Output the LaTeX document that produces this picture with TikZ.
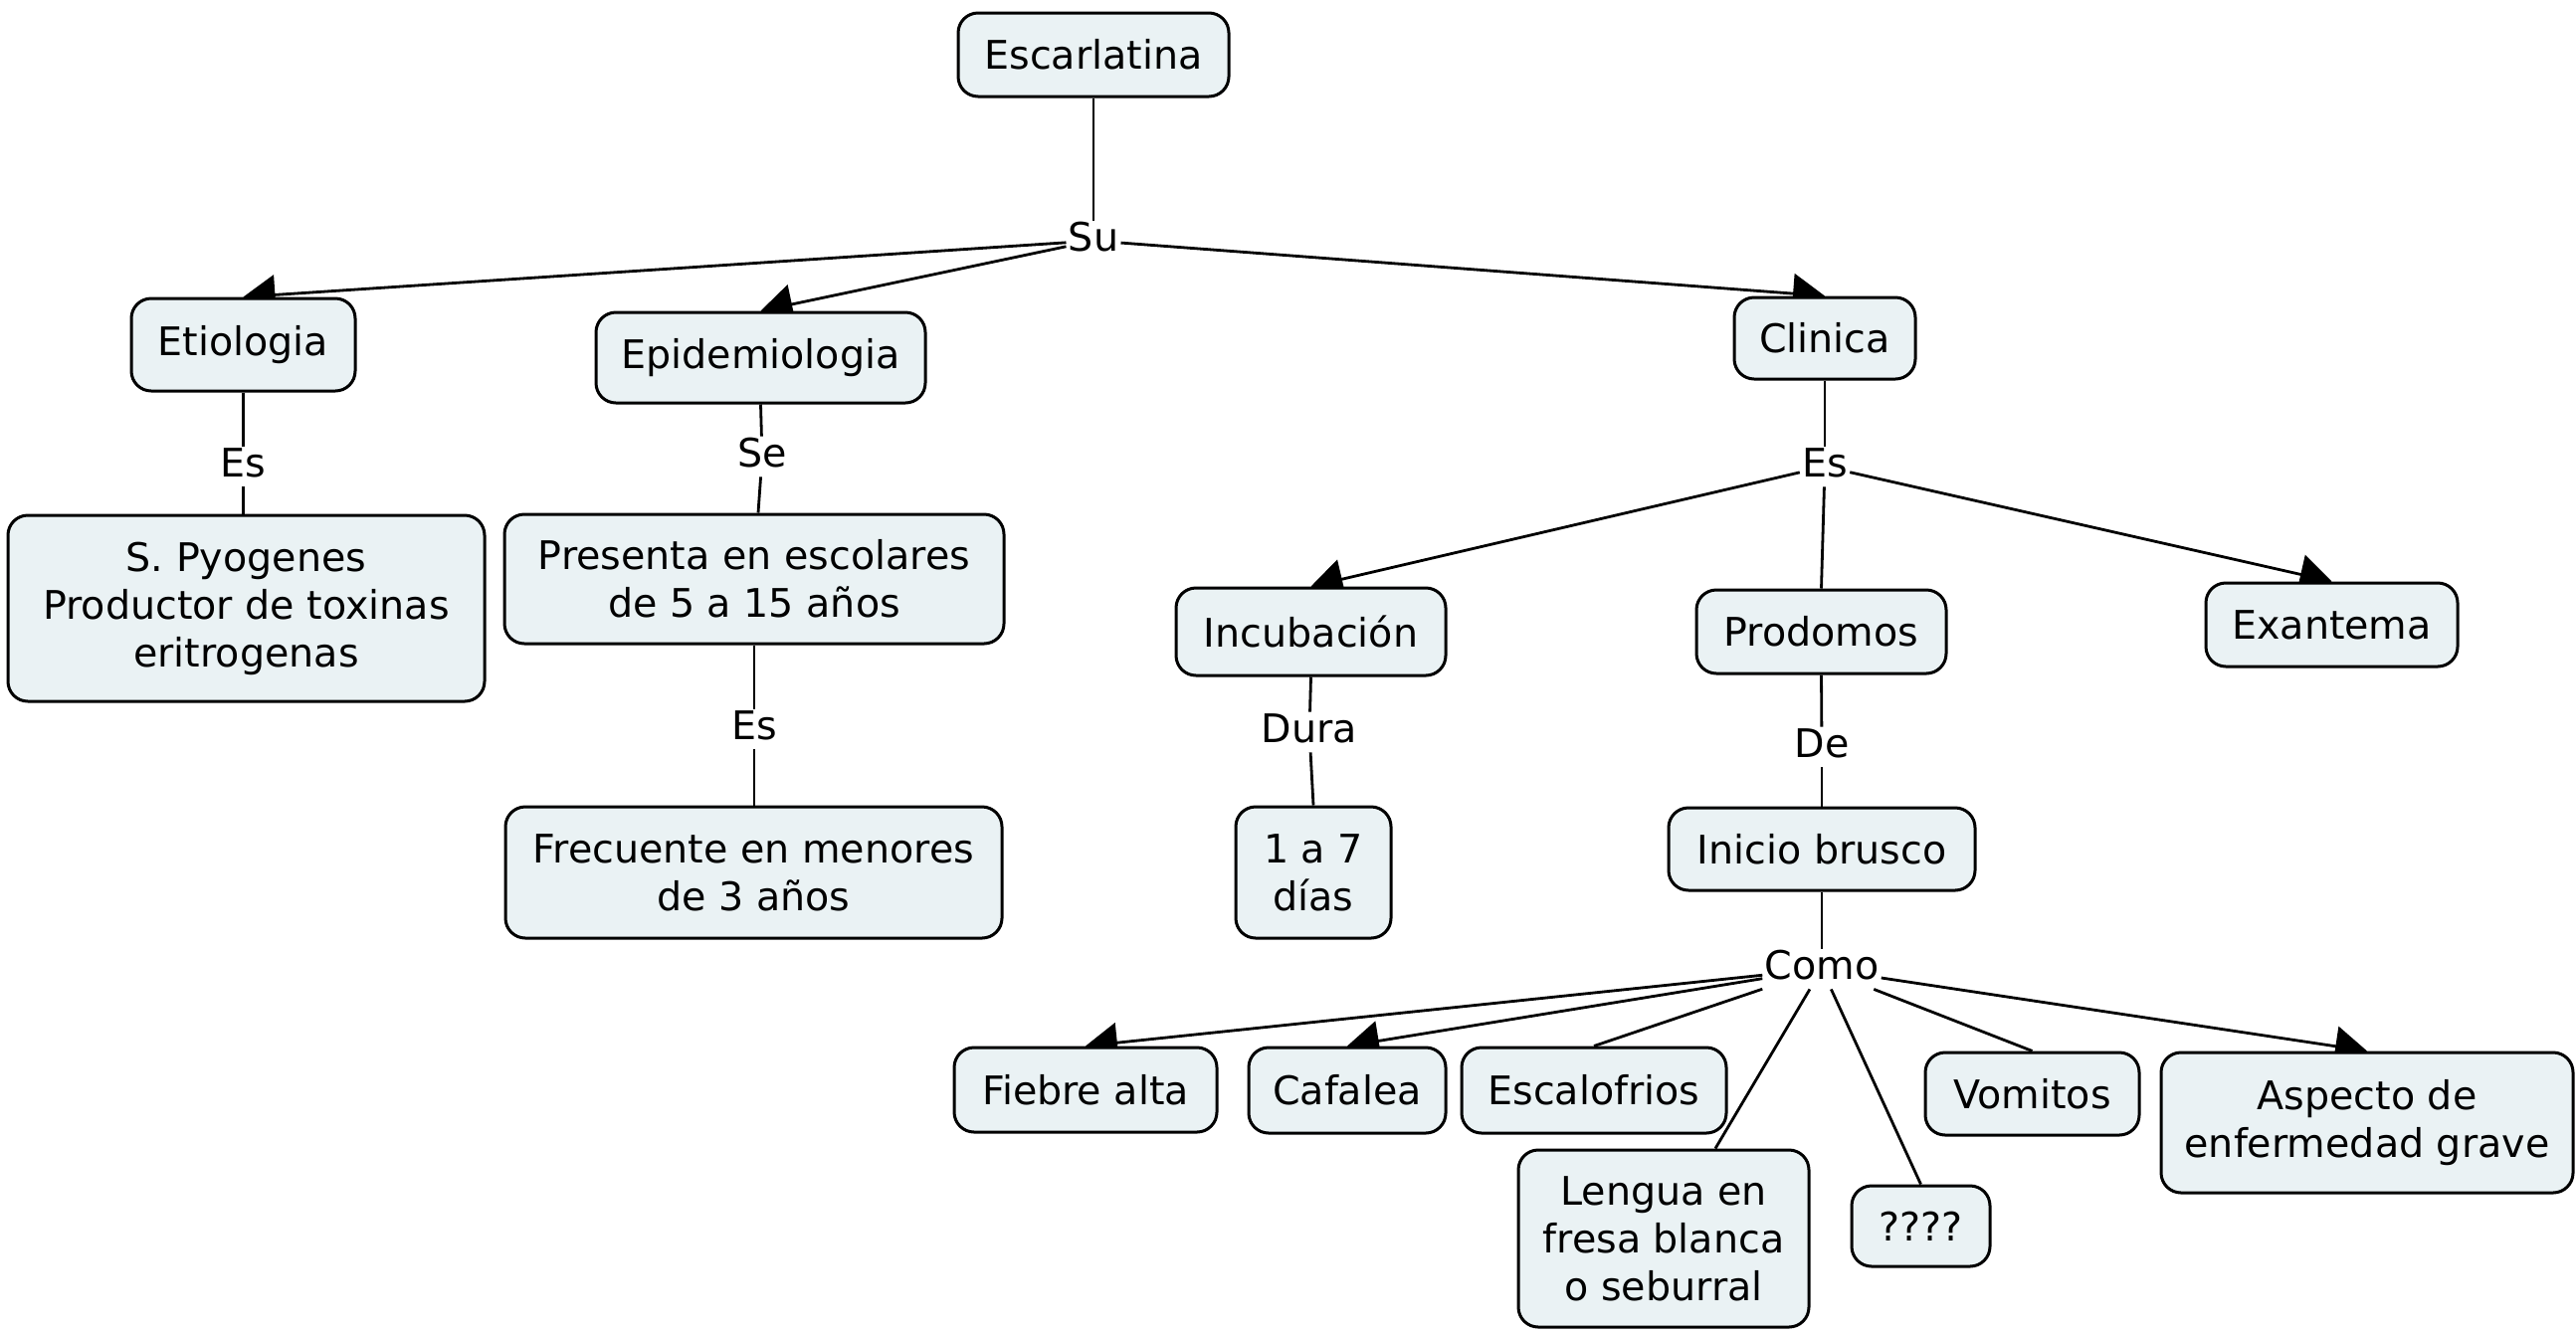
\documentclass[tikz,border=0pt]{standalone}
\usepackage{fontspec}
\setmainfont{DejaVu Sans}
\usetikzlibrary{arrows.meta,backgrounds}
\definecolor{boxfill}{RGB}{234,242,244}
\begin{document}
\begin{tikzpicture}[x=0.5pt,y=-0.5pt,
  box/.style={draw=black, line width=1.5pt, fill=boxfill, rounded corners=10pt, align=center, inner sep=0pt, font=\fontsize{19.8}{24}\selectfont},
  lbl/.style={inner sep=1pt, text height=14pt, text depth=4pt, font=\fontsize{19.8}{24}\selectfont},
  conn/.style={line width=1.4pt},
  arr/.style={line width=1.4pt, -{Triangle[length=16pt,width=20pt]}},
]
\useasboundingbox (0,0) rectangle (2589,1340);
% concept boxes
\node[box, minimum width=136pt, minimum height=42pt] (escar) at (1099,55) {Escarlatina};
\node[box, minimum width=112.5pt, minimum height=46.5pt] (etio) at (244.5,346.5) {Etiologia};
\node[box, minimum width=239.5pt, minimum height=93.5pt] (spy) at (247.5,611.5) {S. Pyogenes\\Productor de toxinas\\eritrogenas};
\node[box, minimum width=165.5pt, minimum height=45.5pt] (epid) at (764.5,359.5) {Epidemiologia};
\node[box, minimum width=251pt, minimum height=65pt] (pres) at (758,582) {Presenta en escolares\\de 5 a 15 años};
\node[box, minimum width=249.5pt, minimum height=66pt] (frec) at (757.5,877) {Frecuente en menores\\de 3 años};
\node[box, minimum width=91pt, minimum height=41pt] (clin) at (1834,340) {Clinica};
\node[box, minimum width=135.5pt, minimum height=44pt] (incu) at (1317.5,635) {Incubación};
\node[box, minimum width=78pt, minimum height=66pt] (dias) at (1320,877) {1 a 7\\días};
\node[box, minimum width=125.5pt, minimum height=42pt] (prod) at (1830.5,635) {Prodomos};
\node[box, minimum width=154pt, minimum height=41.5pt] (inic) at (1831,853.5) {Inicio brusco};
\node[box, minimum width=126.5pt, minimum height=42pt] (exan) at (2343.5,628) {Exantema};
\node[box, minimum width=132pt, minimum height=42.5pt] (fieb) at (1091,1095.5) {Fiebre alta};
\node[box, minimum width=99pt, minimum height=43pt] (cafa) at (1354,1096) {Cafalea};
\node[box, minimum width=133pt, minimum height=43pt] (esca) at (1602,1096) {Escalofrios};
\node[box, minimum width=146pt, minimum height=89pt] (leng) at (1672,1245) {Lengua en\\fresa blanca\\o seburral};
\node[box, minimum width=69.5pt, minimum height=40.5pt] (ques) at (1930.5,1232.5) {????};
\node[box, minimum width=107.5pt, minimum height=41.5pt] (vomi) at (2042.5,1099.5) {Vomitos};
\node[box, minimum width=207pt, minimum height=70.5pt] (aspe) at (2379,1128.5) {Aspecto de\\enfermedad grave};
% linking phrases
\node[lbl] (su) at (1099,242) {Su};
\node[lbl] (es1) at (244.5,469) {Es};
\node[lbl] (se) at (766,459) {Se};
\node[lbl] (es2) at (758,733) {Es};
\node[lbl] (es3) at (1834,469) {Es};
\node[lbl] (dura) at (1316,736) {Dura};
\node[lbl] (de) at (1831,751) {De};
\node[lbl] (como) at (1831,974) {Como};
% connectors
\begin{scope}[on background layer]
\fill[white] (0,0) rectangle (2589,1340);
\draw[conn] (escar.south) -- (su);
\draw[arr] (su) -- (etio.north);
\draw[arr] (su) -- (epid.north);
\draw[arr] (su) -- (clin.north);
\draw[conn] (etio.south) -- (es1);
\draw[conn] (es1) -- (es1 |- spy.north);
\draw[conn] (epid.south) -- (se);
\draw[conn] (se) -- ([xshift=2pt]pres.north);
\draw[conn] (pres.south) -- (es2);
\draw[conn] (es2) -- (es2 |- frec.north);
\draw[conn] (clin.south) -- (es3);
\draw[arr] (es3) -- (incu.north);
\draw[conn] (es3) -- (prod.north);
\draw[arr] (es3) -- (exan.north);
\draw[conn] (incu.south) -- (dura);
\draw[conn] (dura) -- (dias.north);
\draw[conn] (prod.south) -- (de);
\draw[conn] (de) -- (de |- inic.north);
\draw[conn] (inic.south) -- (como);
\draw[arr] (como) -- (fieb.north);
\draw[arr] (como) -- (cafa.north);
\draw[conn] (como) -- (esca.north);
\draw[conn] (como) -- ([xshift=26pt]leng.north);
\draw[conn] (como) -- (ques.north);
\draw[conn] (como) -- (vomi.north);
\draw[arr] (como) -- (aspe.north);
\end{scope}
\end{tikzpicture}
\end{document}
